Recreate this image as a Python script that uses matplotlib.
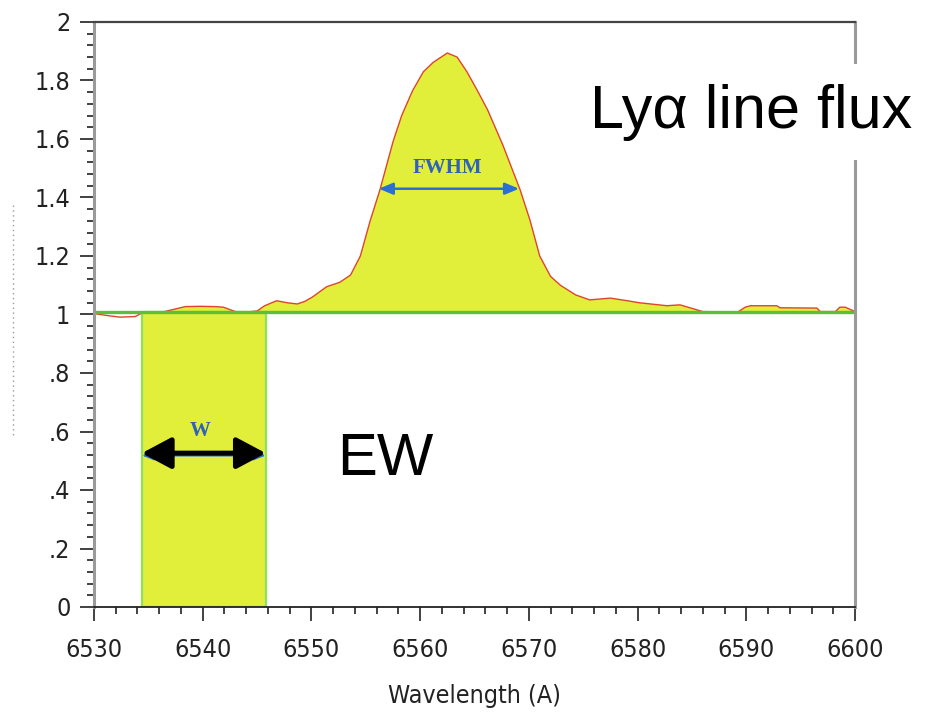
import matplotlib
matplotlib.use('Agg')
import matplotlib.pyplot as plt
from matplotlib.lines import Line2D
from matplotlib.ticker import MultipleLocator, FuncFormatter

# normalised spectrum around the emission line
wave = [6530.0, 6531.5, 6532.4, 6533.8, 6534.4, 6535.2, 6536.5, 6537.6, 6538.4,
        6539.8, 6541.1, 6541.9, 6543.0, 6543.9, 6545.0, 6545.7, 6546.8, 6547.8,
        6548.7, 6549.4, 6550.1, 6551.4, 6552.6, 6553.6, 6554.5, 6555.4, 6556.3,
        6557.5, 6558.3, 6559.3, 6560.3, 6561.2, 6562.5, 6563.4, 6564.3, 6565.2,
        6566.2, 6566.9, 6567.6, 6569.2, 6570.1, 6571.0, 6572.0, 6572.9, 6574.3,
        6575.6, 6577.5, 6578.9, 6580.2, 6582.7, 6583.9, 6586.0, 6589.2, 6589.9,
        6590.4, 6592.8, 6593.1, 6596.5, 6596.8, 6598.2, 6598.6, 6599.1, 6600.0]
flux = [1.003, 0.995, 0.991, 0.993, 1.005, 1.008, 1.010, 1.020, 1.027,
        1.028, 1.027, 1.025, 1.010, 1.008, 1.012, 1.030, 1.047, 1.040,
        1.036, 1.045, 1.060, 1.095, 1.110, 1.135, 1.200, 1.320, 1.426,
        1.590, 1.680, 1.765, 1.830, 1.862, 1.894, 1.880, 1.830, 1.770,
        1.700, 1.640, 1.580, 1.426, 1.323, 1.200, 1.130, 1.100, 1.067,
        1.050, 1.056, 1.048, 1.040, 1.030, 1.033, 1.010, 1.008, 1.025,
        1.030, 1.030, 1.023, 1.022, 1.010, 1.010, 1.025, 1.025, 1.010]

continuum = 1.01
ew_left, ew_right = 6534.4, 6545.8      # box of equal area under the continuum
fwhm_left, fwhm_right, half_max = 6556.2, 6569.1, 1.43
ew_arrow_y = 0.526

yticks = [0, 0.2, 0.4, 0.6, 0.8, 1.0, 1.2, 1.4, 1.6, 1.8, 2.0]

yellow = '#e1ef3b'
tick_font = ['DejaVu Sans', 'Liberation Sans']

fig = plt.figure(figsize=(9.3, 7.12), dpi=100)
ax = fig.add_axes([94/930, 1 - 607/712, (855 - 94)/930, (607 - 22)/712])

# emission above the continuum
ax.fill_between(wave, flux, continuum,
                where=[f > continuum for f in flux], interpolate=True,
                color=yellow, lw=0, zorder=1)
# equivalent width box
ax.bar((ew_left + ew_right)/2, continuum, width=ew_right - ew_left, bottom=0,
       color=yellow, edgecolor='#8fe05a', linewidth=1.6, zorder=1)
ax.plot(wave, flux, color='#e0442e', lw=1.0, zorder=2)
ax.axhline(continuum, color='#5cbf3a', lw=2.4, zorder=2.2)

# FWHM marker
ax.annotate('', xy=(fwhm_left, half_max), xytext=(fwhm_right, half_max),
            arrowprops=dict(arrowstyle='<|-|>,head_length=0.6,head_width=0.25',
                            color='#2a6fd6', lw=1.8, mutation_scale=14,
                            shrinkA=0, shrinkB=0), zorder=3)
ax.text((fwhm_left + fwhm_right)/2 - 0.1, 1.50, 'FWHM', color='#2f62b8',
        fontsize=15, fontweight='bold', family='Liberation Serif',
        ha='center', va='center', zorder=3)

# equivalent width marker
ax.annotate('', xy=(ew_left, ew_arrow_y - 0.008), xytext=(ew_right, ew_arrow_y - 0.008),
            arrowprops=dict(arrowstyle='<|-|>,head_length=0.5,head_width=0.2',
                            color='#2a6fd6', lw=1.5, mutation_scale=14,
                            shrinkA=0, shrinkB=0), zorder=3)
ax.annotate('', xy=(ew_left, ew_arrow_y), xytext=(ew_right, ew_arrow_y),
            arrowprops=dict(arrowstyle='<|-|>,head_length=0.75,head_width=0.4',
                            color='black', lw=3.6, mutation_scale=24,
                            shrinkA=0, shrinkB=0), zorder=3.1)
ax.text((ew_left + ew_right)/2 - 0.3, 0.60, 'W', color='#2f62b8',
        fontsize=15, fontweight='bold', family='Liberation Serif',
        ha='center', va='center', zorder=3)

ax.text(6552.4, 0.451, 'EW', fontsize=43, family='Liberation Sans',
        ha='left', va='baseline', zorder=3)
ax.text(6575.6, 1.638, 'Ly\u03b1 line flux', fontsize=44, family='Liberation Sans',
        ha='left', va='baseline', zorder=3,
        bbox=dict(facecolor='white', edgecolor='none', pad=14))

ax.set_xlim(6530, 6600)
ax.set_ylim(0, 2)
ax.xaxis.set_major_locator(MultipleLocator(10))
ax.xaxis.set_minor_locator(MultipleLocator(2))
ax.set_yticks(yticks)
ax.yaxis.set_minor_locator(MultipleLocator(0.04))
ax.yaxis.set_major_formatter(FuncFormatter(
    lambda v, pos: '%d' % v if abs(v - round(v)) < 1e-9 else ('%.1f' % v).lstrip('0')))

ax.tick_params(which='major', length=10, width=1.3, color='#333')
ax.tick_params(which='minor', length=5, width=1.3, color='#333')
ax.tick_params(axis='x', which='major', pad=12)
ax.tick_params(axis='y', which='major', pad=7)
for lab in ax.get_xticklabels() + ax.get_yticklabels():
    lab.set_family(tick_font)
    lab.set_stretch('condensed')
    lab.set_fontsize(18)
    lab.set_color('#222')

ax.set_xlabel('Wavelength (A)', family=tick_font, fontstretch='condensed',
              fontsize=18, labelpad=16, color='#222')

ax.spines['left'].set_color('#9a9a9a')
ax.spines['left'].set_linewidth(2.2)
ax.spines['right'].set_color('#9a9a9a')
ax.spines['right'].set_linewidth(2.2)
ax.spines['top'].set_color('#444')
ax.spines['top'].set_linewidth(1.6)
ax.spines['bottom'].set_color('#222')
ax.spines['bottom'].set_linewidth(1.3)

# faded remains of the y-axis title
fig.add_artist(Line2D([13/930, 13/930], [1 - 205/712, 1 - 435/712],
                      ls=(0, (1, 2.5)), color='#9a9a9a', lw=1.0))

fig.savefig('out.png', dpi=100)
